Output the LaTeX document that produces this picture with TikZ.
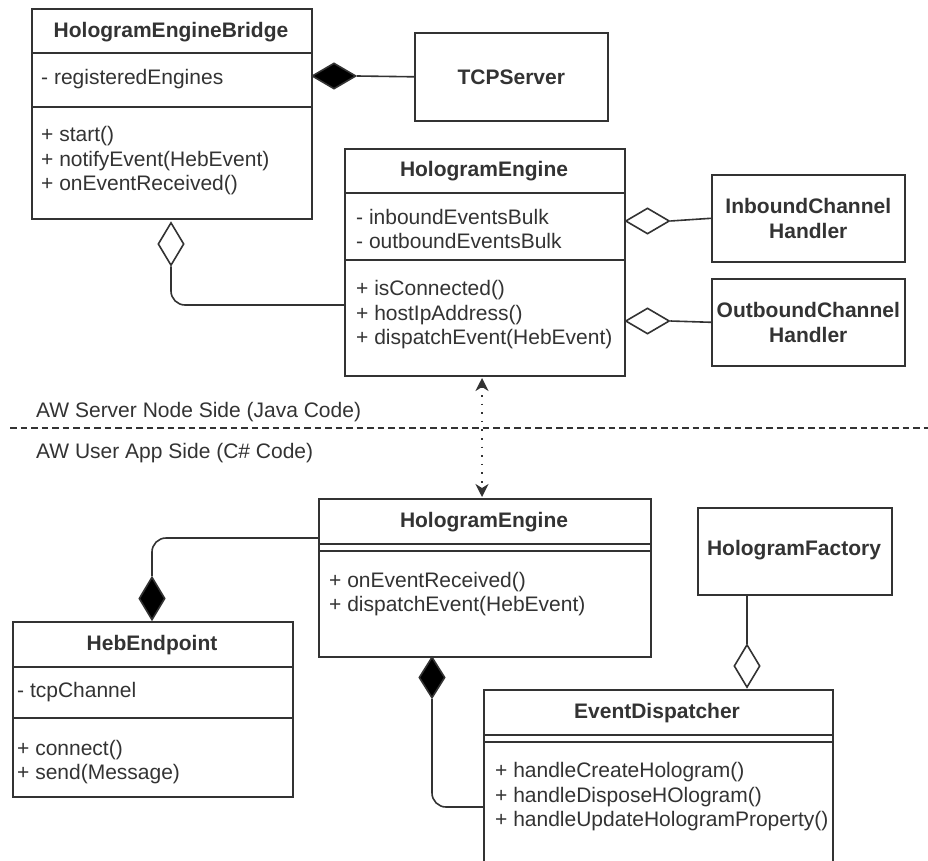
\documentclass[tikz,border=0pt]{standalone}
\usepackage{fontspec}
\setmainfont{Liberation Sans}
\usetikzlibrary{arrows.meta,shapes.geometric}
\definecolor{ink}{HTML}{333333}
\tikzset{
  umlbox/.style={draw=ink, line width=1.6pt, fill=white, inner sep=0pt, anchor=north west},
  ttl/.style={font=\fontsize{21}{24.5}\selectfont\bfseries, text=ink, inner sep=0pt, align=center},
  mbr/.style={font=\fontsize{21}{24.5}\selectfont, text=ink, inner sep=0pt, anchor=west, align=left},
  sepline/.style={draw=ink, line width=1.6pt},
  link/.style={draw=ink, line width=1.6pt, rounded corners=14pt},
  fulldia/.style={diamond, draw=ink, fill=black, line width=1.6pt, inner sep=0pt},
  opendia/.style={diamond, draw=ink, fill=white, line width=1.6pt, inner sep=0pt},
  hdia/.style={minimum width=44pt, minimum height=26pt},
  vdia/.style={minimum width=26pt, minimum height=43pt},
  sidelabel/.style={font=\fontsize{21}{24.5}\selectfont, text=ink, inner sep=0pt, anchor=west},
  boundary/.style={draw=ink, line width=1.3pt, dash pattern=on 6.5pt off 4pt},
  remote/.style={draw=ink, line width=1.6pt, dash pattern=on 1.6pt off 7pt,
    {Stealth[length=13pt,width=13pt,inset=4pt]}-{Stealth[length=13pt,width=13pt,inset=4pt]}}
}
\begin{document}
\begin{tikzpicture}[x=1pt,y=-1pt]
\useasboundingbox (0,0) rectangle (928,861);
\clip (0,0) rectangle (928,861);
\fill[white] (0,0) rectangle (928,861);

% ---------------- Java side ----------------
% HologramEngineBridge
\node[umlbox, minimum width=280pt, minimum height=210pt] (bridge) at (31,8) {};
\draw[sepline] (bridge.west |- 0,53) -- (bridge.east |- 0,53);
\draw[sepline] (bridge.west |- 0,107) -- (bridge.east |- 0,107);
\node[ttl] (bridgeT) at (171,32) {HologramEngineBridge};
\node[mbr] (bridgeA) at (41,79) {- registeredEngines};
\node[mbr] (bridgeM) at (41,161) {+ start()\\+ notifyEvent(HebEvent)\\+ onEventReceived()};

% TCPServer
\node[umlbox, minimum width=193pt, minimum height=88pt] (tcp) at (414,32) {};
\node[ttl] (tcpT) at (tcp.center) {TCPServer};

% HologramEngine (server)
\node[umlbox, minimum width=280pt, minimum height=227pt] (engS) at (344,148) {};
\draw[sepline] (engS.west |- 0,193) -- (engS.east |- 0,193);
\draw[sepline] (engS.west |- 0,260) -- (engS.east |- 0,260);
\node[ttl] (engST) at (484,171) {HologramEngine};
\node[mbr] (engSA) at (356,229) {- inboundEventsBulk\\- outboundEventsBulk};
\node[mbr] (engSM) at (356,315) {+ isConnected()\\+ hostIpAddress()\\+ dispatchEvent(HebEvent)};

% Channel handlers
\node[umlbox, minimum width=193pt, minimum height=87pt] (inb) at (711,174) {};
\node[ttl] (inbT) at (inb.center) {InboundChannel\\Handler};
\node[umlbox, minimum width=193pt, minimum height=87pt] (outb) at (711,278) {};
\node[ttl] (outbT) at (outb.center) {OutboundChannel\\Handler};

% Relations on the Java side
\node[fulldia, hdia] (dTcp) at (334,76) {};
\draw[sepline] (dTcp.east) -- (tcp.west);
\node[opendia, vdia] (dEng) at (171,244) {};
\coordinate (engIn) at (344,305);
\draw[link] (dEng.south) |- (engIn);
\node[opendia, hdia] (dInb) at (647.5,221) {};
\draw[sepline] (dInb.east) -- (inb.west);
\node[opendia, hdia] (dOutb) at (647.5,321) {};
\draw[sepline] (dOutb.east) -- (outb.west);

% ---------------- boundary ----------------
\coordinate (bl) at (10,428);
\coordinate (br) at (928,428);
\draw[boundary] (bl) -- (br);
\node[sidelabel] (javaL) at (36,412) {AW Server Node Side (Java Code)};
\node[sidelabel] (csL) at (36,453) {AW User App Side (C\# Code)};

% ---------------- C# side ----------------
% HologramEngine (client)
\node[umlbox, minimum width=332pt, minimum height=158pt] (engC) at (318,498) {};
\draw[sepline] (engC.west |- 0,544) -- (engC.east |- 0,544);
\draw[sepline] (engC.west |- 0,551) -- (engC.east |- 0,551);
\node[ttl] (engCT) at (484,522) {HologramEngine};
\node[mbr] (engCM) at (329,594) {+ onEventReceived()\\+ dispatchEvent(HebEvent)};

% Remote link between both engines
\coordinate (upTip) at (482,378);
\coordinate (dnTip) at (482,497);
\draw[remote] (upTip) -- (dnTip);

% HebEndpoint
\node[umlbox, minimum width=280pt, minimum height=175pt] (heb) at (12,621) {};
\draw[sepline] (heb.west |- 0,667) -- (heb.east |- 0,667);
\draw[sepline] (heb.west |- 0,718) -- (heb.east |- 0,718);
\node[ttl] (hebT) at (152,645) {HebEndpoint};
\node[mbr] (hebA) at (17,692) {- tcpChannel};
\node[mbr] (hebM) at (17,762) {+ connect()\\+ send(Message)};

% HologramFactory
\node[umlbox, minimum width=194pt, minimum height=87pt] (fac) at (697,507) {};
\node[ttl] (facT) at (794,550) {HologramFactory};

% EventDispatcher
\node[umlbox, minimum width=349pt, minimum height=220pt] (disp) at (483,689) {};
\draw[sepline] (disp.west |- 0,735) -- (disp.east |- 0,735);
\draw[sepline] (disp.west |- 0,742) -- (disp.east |- 0,742);
\node[ttl] (dispT) at (657,713) {EventDispatcher};
\node[mbr] (dispM) at (495,797) {+ handleCreateHologram()\\+ handleDisposeHOlogram()\\+ handleUpdateHologramProperty()};

% Relations on the C# side
\node[fulldia, vdia] (dHeb) at (152,598.5) {};
\coordinate (engOut) at (318,538);
\draw[link] (dHeb.north) |- (engOut);
\node[fulldia, vdia, minimum height=41pt] (dDisp) at (432,677.5) {};
\coordinate (dispIn) at (483,807);
\draw[link] (dDisp.south) |- (dispIn);
\node[opendia, vdia] (dFac) at (747,666) {};
\draw[sepline] (dFac.north) -- (dFac.north |- fac.south);
\end{tikzpicture}
\end{document}
